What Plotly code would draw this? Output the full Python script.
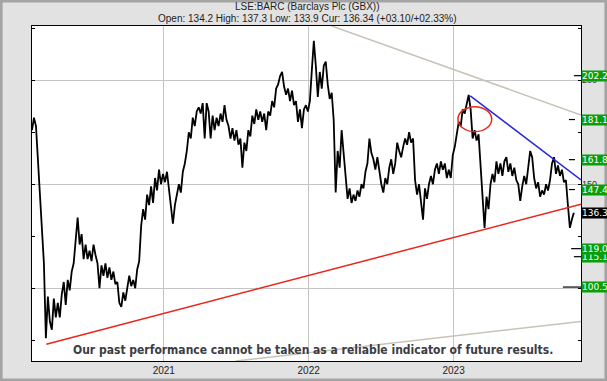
import pandas as pd
import plotly.graph_objects as go

# ---- price series (~5-day steps) ----
close = [
    176, 182, 178, 160, 143, 128, 112, 76, 96, 84,
    80, 95, 86, 93, 86, 97, 103, 92, 104, 99,
    108, 112, 125, 134, 121, 126, 114, 121, 114, 118,
    113, 121, 116, 112, 100, 111, 106, 112, 105, 110,
    104, 108, 102, 103, 93, 91, 98, 94, 100, 106,
    101, 104, 100, 109, 113, 130, 138, 133, 145, 140,
    149, 141, 153, 147, 157, 150, 155, 151, 156, 148,
    138, 131, 140, 145, 150, 146, 156, 160, 166, 175,
    172, 182, 178, 185, 187, 184, 189, 172, 189, 185,
    172, 183, 176, 182, 178, 184, 180, 188, 181, 178,
    172, 177, 171, 176, 169, 172, 158, 170, 166, 176,
    173, 183, 179, 186, 181, 185, 180, 184, 176, 185,
    183, 190, 187, 196, 198, 202, 204, 197, 193, 196,
    190, 195, 188, 190, 180, 186, 177, 186, 188, 185,
    190, 205, 219, 207, 192, 204, 196, 207, 209, 198,
    191, 194, 181, 146, 166, 158, 176, 165, 152, 143,
    148, 141, 145, 142, 147, 144, 150, 148, 156, 160,
    172, 165, 162, 157, 163, 155, 150, 146, 153, 150,
    158, 162, 155, 160, 170, 166, 163, 168, 172, 169,
    175, 170, 172, 152, 145, 150, 142, 133, 148, 143,
    150, 154, 150, 157, 160, 155, 161, 157, 160, 153,
    157, 153, 164, 168, 174, 180, 178, 186, 184, 189,
    193, 186, 172, 176, 171, 174, 160, 143, 129, 144,
    138, 150, 155, 151, 161, 155, 160, 154, 161, 163,
    156, 160, 154, 158, 152, 150, 142, 149, 154, 150,
    157, 166, 163, 153, 148, 151, 144, 147, 145, 150,
    147, 152, 160, 163, 155, 159, 154, 157, 151, 152,
    140, 129, 133, 136.34,
]
dates = pd.date_range("2020-02-04", periods=len(close), freq="5D")

# ---- trend lines ----
support_dates = ["2020-03-11", "2023-11-18"]
support_vals = [73.1, 140.4]
resist_dates = ["2023-02-12", "2023-11-18"]
resist_vals = [192.5, 152.1]
upper_grey_dates = ["2022-02-28", "2023-11-18"]
upper_grey_vals = [226.1, 183.3]
lower_grey_dates = ["2021-07-01", "2023-11-18"]
lower_grey_vals = [65.0, 84.0]
ellipse_dates = ["2023-01-12", "2023-04-07"]
ellipse_vals = [175.3, 187.3]

# ---- right-hand level labels ----
levels = [202.21, 181.12, 161.83, 147.45, 136.34, 115.16, 119.03, 100.56]
level_colors = ["#0a9e0a", "#0a9e0a", "#0a9e0a", "#0a9e0a", "#000000",
                "#0a9e0a", "#0a9e0a", "#0a9e0a"]
dash_levels = [202.21, 181.12, 161.83, 147.45, 119.03, 115.16, 100.56]
dash_start = [0.987, 0.978, 0.978, 0.978, 0.982, 0.987, 0.967]
dash_end = [1.0, 0.989, 0.989, 0.989, 1.0, 1.0, 1.0]

year_ticks = ["2021-01-01", "2022-01-01", "2023-01-01"]
year_labels = ["2021", "2022", "2023"]

y_range = [65, 226.1]
x_range = ["2020-02-04", "2023-11-18"]

fig = go.Figure()
fig.add_trace(go.Scatter(x=dates, y=close, mode="lines",
                         line=dict(color="black", width=1.8),
                         hoverinfo="skip", showlegend=False))
fig.add_trace(go.Scatter(x=[dates[0]], y=[close[0]], yaxis="y2", mode="lines",
                         line=dict(width=0), hoverinfo="skip", showlegend=False))

def tline(xs, ys, color, width=1.5):
    fig.add_shape(type="line", xref="x", yref="y", x0=xs[0], x1=xs[1],
                  y0=ys[0], y1=ys[1], line=dict(color=color, width=width))

tline(upper_grey_dates, upper_grey_vals, "#c9c3b5")
tline(lower_grey_dates, lower_grey_vals, "#c9c3b5")
tline(support_dates, support_vals, "#e8261c")
tline(resist_dates, resist_vals, "#2a2ad8")
fig.add_shape(type="circle", xref="x", yref="y",
              x0=ellipse_dates[0], x1=ellipse_dates[1],
              y0=ellipse_vals[0], y1=ellipse_vals[1],
              line=dict(color="#e8261c", width=1.5))

for lv, a, b in zip(dash_levels, dash_start, dash_end):
    fig.add_shape(type="line", xref="paper", yref="y", x0=a, x1=b, y0=lv, y1=lv,
                  line=dict(color="black", width=1.2))

# frame border around whole figure
W, H = 549, 335
fig.add_shape(type="rect", xref="paper", yref="paper",
              x0=-32 / W + 0.002, x1=1 + 26 / W - 0.002,
              y0=-20 / H + 0.003, y1=1 + 26 / H - 0.003,
              line=dict(color="#a4a4a4", width=3), layer="below")

annotations = []
for lv, col in zip(levels, level_colors):
    annotations.append(dict(xref="paper", yref="y", x=1, y=lv, xanchor="left",
                            yanchor="middle", text=f"{lv:.2f}", showarrow=False,
                            bgcolor=col, borderpad=0, align="left",
                            font=dict(color="white", size=9,
                                      family="DejaVu Sans, Verdana")))
annotations.append(dict(xref="paper", yref="paper", x=(307 - 32) / W, y=1 + 19 / H,
                        yanchor="middle", xanchor="center", showarrow=False,
                        text="LSE:BARC (Barclays Plc (GBX))",
                        font=dict(size=10, color="#222", family="Liberation Sans, Arial")))
annotations.append(dict(xref="paper", yref="paper", x=(307 - 32) / W, y=1 + 7.5 / H,
                        yanchor="middle", xanchor="center", showarrow=False,
                        text="Open: 134.2 High: 137.3 Low: 133.9 Cur: 136.34 (+03.10/+02.33%)",
                        font=dict(size=10, color="#222", family="Liberation Sans, Arial")))
annotations.append(dict(xref="paper", yref="paper", x=(313 - 32) / W, y=(361 - 350) / H,
                        yanchor="middle", xanchor="center", showarrow=False,
                        text="<b>Our past performance cannot be taken as a reliable indicator of future results.</b>",
                        font=dict(size=12, color="#3c3c44",
                                  family="Liberation Sans Narrow, DejaVu Sans Condensed, Arial Narrow")))

fig.update_layout(
    width=607, height=381,
    margin=dict(l=32, r=26, t=26, b=20, autoexpand=False),
    paper_bgcolor="#e2e2e2", plot_bgcolor="white",
    showlegend=False,
    annotations=annotations,
    xaxis=dict(type="date", range=x_range, tickvals=year_ticks, ticktext=year_labels,
               showgrid=True, gridcolor="#c4c4c4", gridwidth=1, automargin=False,
               showline=True, linecolor="black", linewidth=1, mirror=True,
               ticks="", tickfont=dict(size=10, color="#222", family="Liberation Sans, Arial"),
               zeroline=False, fixedrange=True),
    yaxis=dict(range=y_range, tickvals=[75, 100, 125, 150, 175, 200, 225],
               showticklabels=False, ticks="inside", ticklen=3, tickcolor="black",
               showgrid=False, showline=True, linecolor="black", linewidth=1,
               mirror="ticks", zeroline=False, fixedrange=True, automargin=False),
    yaxis2=dict(range=y_range, overlaying="y", side="right", tickvals=[100, 150, 200],
                showgrid=True, gridcolor="#c4c4c4", gridwidth=1, ticks="",
                tickfont=dict(size=9, color="#333", family="Liberation Sans, Arial"),
                showline=False, zeroline=False, fixedrange=True, automargin=False),
)

fig.write_html("out.html", config={"staticPlot": True},
               post_script="document.body.style.margin='0';document.body.style.overflow='hidden';")
